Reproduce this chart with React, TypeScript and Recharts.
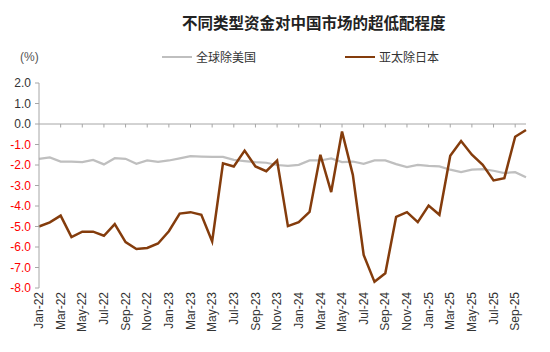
import React from 'react';
import { LineChart, Line, XAxis, YAxis, ReferenceLine } from 'recharts';

const months = [
  'Jan-22', 'Feb-22', 'Mar-22', 'Apr-22', 'May-22', 'Jun-22', 'Jul-22', 'Aug-22', 'Sep-22', 'Oct-22', 'Nov-22', 'Dec-22',
  'Jan-23', 'Feb-23', 'Mar-23', 'Apr-23', 'May-23', 'Jun-23', 'Jul-23', 'Aug-23', 'Sep-23', 'Oct-23', 'Nov-23', 'Dec-23',
  'Jan-24', 'Feb-24', 'Mar-24', 'Apr-24', 'May-24', 'Jun-24', 'Jul-24', 'Aug-24', 'Sep-24', 'Oct-24', 'Nov-24', 'Dec-24',
  'Jan-25', 'Feb-25', 'Mar-25', 'Apr-25', 'May-25', 'Jun-25', 'Jul-25', 'Aug-25', 'Sep-25', 'Oct-25',
];

// 全球除美国
const globalExUS = [
  -1.7, -1.63, -1.83, -1.83, -1.86, -1.75, -1.97, -1.67, -1.7, -1.94, -1.78, -1.85,
  -1.78, -1.68, -1.57, -1.59, -1.6, -1.6, -1.75, -1.81, -1.86, -1.89, -2.0,
  -2.04, -1.99, -1.78, -1.78, -1.68, -1.86, -1.83, -1.94, -1.78, -1.78, -1.96,
  -2.1, -1.99, -2.04, -2.07, -2.23, -2.35, -2.23, -2.2, -2.28, -2.39, -2.35, -2.6,
];

// 亚太除日本
const apacExJapan = [
  -5.0, -4.8, -4.47, -5.52, -5.25, -5.25, -5.45, -4.88, -5.76, -6.1, -6.05, -5.83,
  -5.23, -4.37, -4.3, -4.43, -5.73, -1.92, -2.07, -1.3, -2.07, -2.3, -1.78,
  -4.98, -4.79, -4.29, -1.5, -3.32, -0.37, -2.48, -6.39, -7.7, -7.28, -4.53,
  -4.3, -4.79, -3.98, -4.43, -1.55, -0.83, -1.5, -1.99, -2.75, -2.64, -0.62, -0.29,
];

const yTicks = [-8, -7, -6, -5, -4, -3, -2, -1, 0, 1, 2];

const data = months.map((m, i) => ({ month: m, g: globalExUS[i], a: apacExJapan[i] }));

const GRAY = '#BFBFBF';
const BROWN = '#843C0C';
const AXIS = '#A6A6A6';
const FONT = '"Liberation Sans", Arial, sans-serif';
const CJK = '"Noto Sans CJK SC", "Liberation Sans", sans-serif';

const XTick = (props: any) => {
  const { x, y, payload } = props;
  return (
    <text
      x={x}
      y={y}
      transform={`rotate(-90, ${x}, ${y})`}
      textAnchor="end"
      dy="0.35em"
      fontSize={12}
      fontFamily={FONT}
      fill="#333"
    >
      {payload.value}
    </text>
  );
};

const YTick = (props: any) => {
  const { x, y, payload } = props;
  const v = payload.value as number;
  return (
    <text x={x} y={y} textAnchor="end" dy="0.35em" fontSize={12} fontFamily={FONT} fill={v < 0 ? '#FF0000' : '#333'}>
      {v.toFixed(1)}
    </text>
  );
};

const LegendItem = ({ color, label }: { color: string; label: string }) => (
  <div style={{ display: 'flex', alignItems: 'center' }}>
    <div style={{ width: 30, height: 2.5, background: color, marginRight: 4 }} />
    <span style={{ fontSize: 12, fontFamily: CJK, color: '#333' }}>{label}</span>
  </div>
);

export default function App() {
  return (
    <div style={{ position: 'absolute', left: 0, top: 0, width: 550, height: 352, background: '#fff' }}>
      <div
        style={{
          position: 'absolute',
          top: 12,
          left: 182,
          fontSize: 15.5,
          fontWeight: 'bold',
          fontFamily: CJK,
          color: '#222',
          whiteSpace: 'nowrap',
          lineHeight: '20px',
        }}
      >
        不同类型资金对中国市场的超低配程度
      </div>
      <div style={{ position: 'absolute', top: 49, left: 20, fontSize: 12, fontFamily: FONT, color: '#555', lineHeight: '16px' }}>
        (%)
      </div>
      <div style={{ position: 'absolute', top: 48, left: 162, lineHeight: '18px' }}>
        <LegendItem color={GRAY} label="全球除美国" />
      </div>
      <div style={{ position: 'absolute', top: 48, left: 345, lineHeight: '18px' }}>
        <LegendItem color={BROWN} label="亚太除日本" />
      </div>
      <LineChart width={550} height={352} data={data} margin={{ top: 83, right: 24, left: 4, bottom: 4 }}>
        <XAxis
          dataKey="month"
          interval={1}
          axisLine={false}
          tickLine={false}
          tickSize={0}
          tickMargin={4}
          height={60}
          tick={<XTick />}
        />
        <YAxis
          domain={[-8, 2]}
          ticks={yTicks}
          interval={0}
          width={35}
          axisLine={{ stroke: AXIS }}
          tickLine={{ stroke: AXIS }}
          tickSize={4}
          tickMargin={4}
          tick={<YTick />}
        />
        <ReferenceLine y={0} stroke={AXIS} strokeWidth={1} />
        {months
          .filter((_, i) => i % 2 === 0 && i > 0)
          .map((m) => (
            <ReferenceLine
              key={m}
              segment={[
                { x: m, y: 0 },
                { x: m, y: -0.17 },
              ]}
              stroke={AXIS}
              strokeWidth={1}
            />
          ))}
        <Line
          type="linear"
          dataKey="g"
          name="全球除美国"
          stroke={GRAY}
          strokeWidth={2.25}
          dot={false}
          isAnimationActive={false}
        />
        <Line
          type="linear"
          dataKey="a"
          name="亚太除日本"
          stroke={BROWN}
          strokeWidth={2.5}
          dot={false}
          isAnimationActive={false}
        />
      </LineChart>
    </div>
  );
}
